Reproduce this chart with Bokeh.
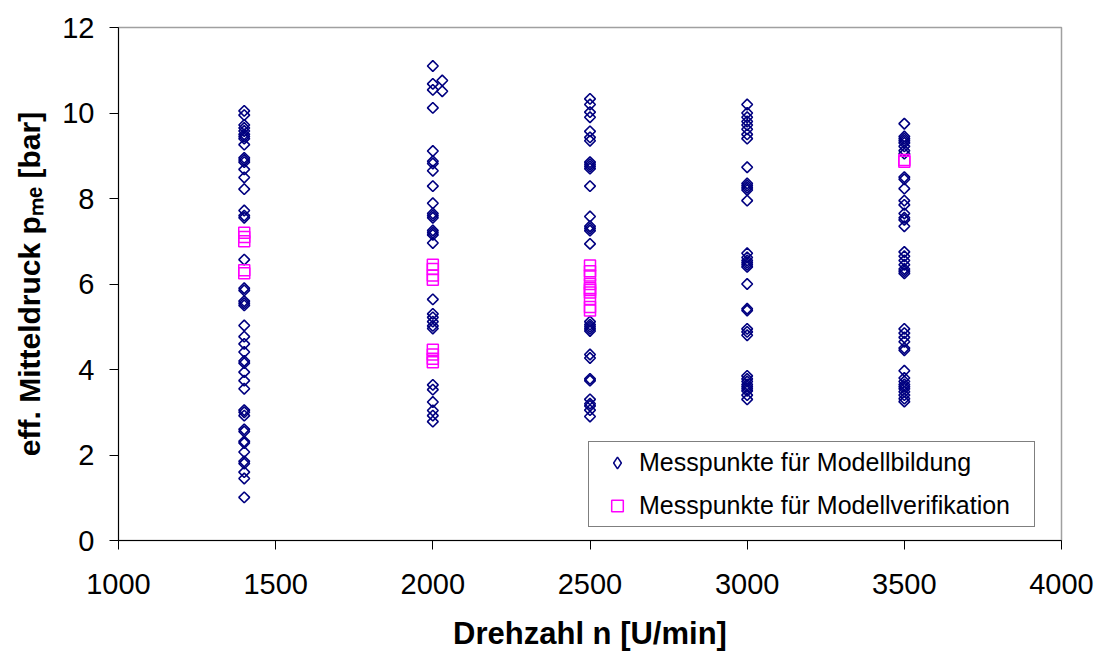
import numpy as np
from bokeh.plotting import figure
from bokeh.models import Range1d, SingleIntervalTicker, Legend, LegendItem
from bokeh.embed import file_html
from bokeh.resources import INLINE

# ---------------- data ----------------
drehzahl = [1400, 2000, 2500, 3000, 3500]

# Messpunkte für Modellbildung (pme in bar) per speed
bild_1400 = [10.05, 9.95, 9.72, 9.65, 9.58, 9.5, 9.45, 9.4, 9.26, 8.95, 8.9, 8.85,
             8.68, 8.49, 8.22, 7.72, 7.6, 7.55, 6.57, 5.9, 5.85, 5.6, 5.55, 5.5,
             5.03, 4.77, 4.6, 4.41, 4.2, 4.15, 3.94, 3.74, 3.55, 3.05, 3.0, 2.92,
             2.6, 2.55, 2.32, 2.28, 2.07, 1.85, 1.8, 1.6, 1.45, 1.01]
bild_2000 = [11.1, 10.68, 10.54, 10.12, 9.11, 8.87, 8.82, 8.65, 8.29, 7.89, 7.65,
             7.6, 7.55, 7.25, 7.2, 7.15, 6.96, 5.64, 5.3, 5.22, 5.12, 5.02, 4.96,
             3.64, 3.53, 3.24, 3.04, 2.92, 2.78]
n_extra = [2030, 2030]
bild_extra = [10.76, 10.51]
bild_2500 = [10.33, 10.2, 10.02, 9.9, 9.57, 9.43, 9.35, 8.85, 8.8, 8.75, 8.7, 8.29,
             7.58, 7.35, 7.3, 7.25, 6.94, 5.12, 5.05, 5.0, 4.95, 4.9, 4.35, 4.27,
             3.78, 3.74, 3.3, 3.2, 3.15, 3.05, 2.9]
bild_3000 = [10.2, 10.0, 9.9, 9.8, 9.72, 9.62, 9.5, 9.4, 8.73, 8.35, 8.3, 8.25, 8.2,
             7.95, 6.72, 6.62, 6.55, 6.5, 6.45, 6.4, 6.0, 5.42, 5.38, 4.95, 4.88,
             4.8, 3.85, 3.78, 3.72, 3.65, 3.6, 3.55, 3.5, 3.4, 3.3]
bild_3500 = [9.75, 9.45, 9.4, 9.35, 9.3, 9.22, 9.12, 9.05, 8.5, 8.45, 8.23, 7.95,
             7.85, 7.65, 7.55, 7.5, 7.35, 6.75, 6.65, 6.55, 6.45, 6.35, 6.3, 6.25,
             4.95, 4.85, 4.75, 4.65, 4.5, 4.45, 3.97, 3.8, 3.72, 3.65, 3.6, 3.55,
             3.48, 3.4, 3.32, 3.25]

# Messpunkte für Modellverifikation
veri_1400 = [7.2, 7.1, 7.0, 6.32, 6.25]
veri_2000 = [6.45, 6.35, 6.2, 6.1, 4.46, 4.35, 4.25, 4.17]
veri_2500 = [6.43, 6.3, 6.2, 6.0, 5.9, 5.86, 5.8, 5.65, 5.46, 5.38]
veri_3000 = []
veri_3500 = [8.9, 8.86]

x_label = "Drehzahl n [U/min]"
y_label = "eff. Mitteldruck p\u2098\u2091 [bar]"
legend_labels = ["Messpunkte für Modellbildung", "Messpunkte für Modellverifikation"]

# ---------------- assemble ----------------
bild_groups = [bild_1400, bild_2000, bild_2500, bild_3000, bild_3500]
veri_groups = [veri_1400, veri_2000, veri_2500, veri_3000, veri_3500]

bx, by = [], []
for n, vals in zip(drehzahl, bild_groups):
    bx += [n] * len(vals)
    by += vals
bx += n_extra
by += bild_extra

vx, vy = [], []
for n, vals in zip(drehzahl, veri_groups):
    vx += [n] * len(vals)
    vy += vals

# ---------------- figure ----------------
W, H = 1097, 653
ML, MR, MT, MB = 118, 36, 27, 113
X0, X1, Y0, Y1 = 1000, 4000, 0, 12

p = figure(width=W, height=H, output_backend="svg", toolbar_location=None,
           x_range=Range1d(X0, X1), y_range=Range1d(Y0, Y1), title=None,
           min_border_left=ML, min_border_right=MR, min_border_top=MT,
           min_border_bottom=MB)
p.background_fill_color = "white"
p.border_fill_color = "white"
p.outline_line_color = "#a0a0a0"
p.outline_line_width = 1.5
p.xgrid.grid_line_color = None
p.ygrid.grid_line_color = None

FONT = "Liberation Sans"
p.xaxis.ticker = SingleIntervalTicker(interval=500, num_minor_ticks=0)
p.yaxis.ticker = SingleIntervalTicker(interval=2, num_minor_ticks=0)
for ax in (p.xaxis[0], p.yaxis[0]):
    ax.axis_line_color = "black"
    ax.axis_line_width = 1
    ax.major_tick_line_color = "black"
    ax.major_tick_in = 0
    ax.major_tick_out = 9
    ax.minor_tick_line_color = None
    ax.major_label_text_font = FONT
    ax.major_label_text_font_size = "29px"
    ax.major_label_text_color = "black"
    ax.axis_label_text_font = FONT
    ax.axis_label_text_font_style = "bold"
    ax.axis_label_text_color = "black"
p.xaxis.major_label_standoff = 24
p.yaxis.major_label_standoff = 15
p.xaxis.axis_label = x_label
p.xaxis.axis_label_text_font_size = "31px"
p.xaxis.axis_label_standoff = 19
p.yaxis.axis_label = y_label
p.yaxis.axis_label_text_font_size = "30px"
p.yaxis.axis_label_standoff = 13

r_bild = p.scatter(bx, by, marker="square", angle=np.pi / 4, size=7.6,
                   line_color="#000080", line_width=1.6, fill_alpha=0)
r_veri = p.scatter(vx, vy, marker="square", size=11,
                   line_color="#FF00FF", line_width=1.5, fill_alpha=0)
# legend-only glyph (a single undefined point) so the legend shows a diamond
r_bild_key = p.scatter([np.nan], [np.nan], marker="diamond", line_color="#000080",
                       line_width=1.5, fill_alpha=0)

legend = Legend(items=[LegendItem(label=legend_labels[0], renderers=[r_bild_key]),
                       LegendItem(label=legend_labels[1], renderers=[r_veri])],
                location=(470, 13), margin=0, padding=6, spacing=14,
                glyph_width=44, glyph_height=29, label_height=29,
                label_width=389, label_standoff=0,
                label_text_font=FONT, label_text_font_size="25px",
                label_text_color="black",
                border_line_color="black", border_line_width=1,
                background_fill_color="white", background_fill_alpha=1)
p.add_layout(legend, "center")

open("out.html", "w").write(file_html(p, INLINE))
